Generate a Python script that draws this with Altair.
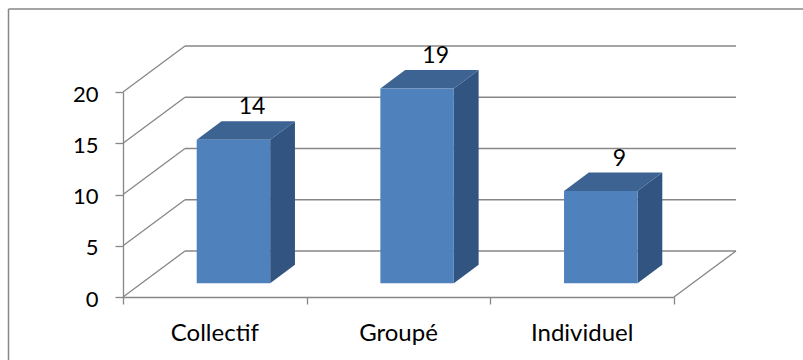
import altair as alt
import pandas as pd

# Chart values
categories = ["Collectif", "Groupé", "Individuel"]
counts = [14, 19, 9]
y_ticks = [0, 5, 10, 15, 20]

# Oblique 3D layout (plot-area units): front wall spans 3 categories and 0..20
PLOT_W, PLOT_H = 551, 205
PX_PER_CAT = PLOT_W / 3
PX_PER_UNIT = PLOT_H / 20
DEPTH_X = 62 / PX_PER_CAT      # back wall shift, in category units
DEPTH_V = 46 / PX_PER_UNIT     # back wall shift, in value units
BAR_Z0, BAR_DEPTH, BAR_HALF = 0.30, 0.40, 0.20
LABEL_Z = 0.60

GRID = "#878787"
FRONT = "#4F81BD"
TOP = "#3C6392"
SIDE = "#325480"
FONT = "Lato"

xs = alt.Scale(domain=[0, 3], nice=False, zero=False)
ys = alt.Scale(domain=[0, 20], nice=False, zero=False)
x_axis = alt.Axis(values=[0, 1, 2, 3], labels=False, title=None, grid=False,
                  tickSize=7, tickColor=GRID, tickWidth=1.3,
                  domainColor=GRID, domainWidth=1.3)
y_axis = alt.Axis(values=y_ticks, title=None, grid=False, format="d",
                  tickSize=8, tickColor=GRID, tickWidth=1.3,
                  domainColor=GRID, domainWidth=1.3,
                  labelFont=FONT, labelFontSize=22, labelColor="black",
                  labelPadding=17, labelOffset=2)


def X(f):
    return alt.X(f, type="quantitative", scale=xs, axis=x_axis)


def Y(f):
    return alt.Y(f, type="quantitative", scale=ys, axis=y_axis)


# Back wall gridlines
back = pd.DataFrame({
    "x": [DEPTH_X] * len(y_ticks),
    "x2": [3 + DEPTH_X] * len(y_ticks),
    "y": [v + DEPTH_V for v in y_ticks],
})
back_layer = alt.Chart(back).mark_rule(color=GRID, strokeWidth=1.3).encode(
    x=X("x"), x2="x2", y=Y("y"))

# Left wall diagonals plus the right edge of the floor
diag = pd.DataFrame({
    "x": [0] * len(y_ticks) + [3],
    "y": list(y_ticks) + [0],
    "x2": [DEPTH_X] * len(y_ticks) + [3 + DEPTH_X],
    "y2": [v + DEPTH_V for v in y_ticks] + [DEPTH_V],
})
diag_layer = alt.Chart(diag).mark_rule(color=GRID, strokeWidth=1.3).encode(
    x=X("x"), y=Y("y"), x2="x2", y2="y2")

# Bar faces
front_rows, side_rows, top_rows, label_rows = [], [], [], []
for i, (cat, v) in enumerate(zip(categories, counts)):
    x0 = i + 0.5 - BAR_HALF + BAR_Z0 * DEPTH_X
    x1 = i + 0.5 + BAR_HALF + BAR_Z0 * DEPTH_X
    v0 = BAR_Z0 * DEPTH_V
    vt = v + v0
    dx, dv = BAR_DEPTH * DEPTH_X, BAR_DEPTH * DEPTH_V
    front_rows.append({"cat": cat, "x": x0, "x2": x1, "y": v0, "y2": vt})
    side_rows += [{"cat": cat, "x": x1, "y": v0, "y2": vt},
                  {"cat": cat, "x": x1 + dx, "y": v0 + dv, "y2": vt + dv}]
    top_rows += [{"cat": cat, "y": vt, "x": x0, "x2": x1},
                 {"cat": cat, "y": vt + dv, "x": x0 + dx, "x2": x1 + dx}]
    label_rows.append({"cat": cat, "value": v,
                       "x": i + 0.5 + LABEL_Z * DEPTH_X,
                       "y": v + LABEL_Z * DEPTH_V})

side_layer = alt.Chart(pd.DataFrame(side_rows)).mark_area(
    color=SIDE, interpolate="linear").encode(
    x=X("x"), y=Y("y"), y2="y2", detail="cat:N")
top_layer = alt.Chart(pd.DataFrame(top_rows)).mark_area(
    color=TOP, orient="horizontal", interpolate="linear").encode(
    y=Y("y"), x=X("x"), x2="x2", detail="cat:N")
front_layer = alt.Chart(pd.DataFrame(front_rows)).mark_rect(color=FRONT).encode(
    x=X("x"), x2="x2", y=Y("y"), y2="y2")

value_layer = alt.Chart(pd.DataFrame(label_rows)).mark_text(
    font=FONT, fontSize=23, color="black", baseline="middle", dy=-18.5).encode(
    x=X("x"), y=Y("y"), text="value:Q")

cat_df = pd.DataFrame({"cat": categories,
                       "x": [i + 0.5 for i in range(len(categories))],
                       "y": [0] * len(categories)})
cat_layer = alt.Chart(cat_df).mark_text(
    font=FONT, fontSize=24, color="black", baseline="middle", dy=37).encode(
    x=X("x"), y=Y("y"), text="cat:N")

# Outer frame (extends past the right and bottom edges)
frame = pd.DataFrame({"k": [0]})
frame_top = alt.Chart(frame).mark_rule(color=GRID, strokeWidth=1.5).encode(
    x=alt.value(-114.5), x2=alt.value(700), y=alt.value(-83))
frame_left = alt.Chart(frame).mark_rule(color=GRID, strokeWidth=1.5).encode(
    x=alt.value(-114.5), y=alt.value(-83), y2=alt.value(300))

chart = alt.layer(
    back_layer, diag_layer, side_layer, top_layer, front_layer,
    value_layer, cat_layer, frame_top, frame_left,
).properties(
    width=PLOT_W, height=PLOT_H,
    padding={"left": 123, "top": 92, "right": 129, "bottom": 63},
    autosize="none",
    background="white",
).configure_view(stroke=None)

chart.save("out.html", embed_options={"renderer": "svg", "actions": False})
